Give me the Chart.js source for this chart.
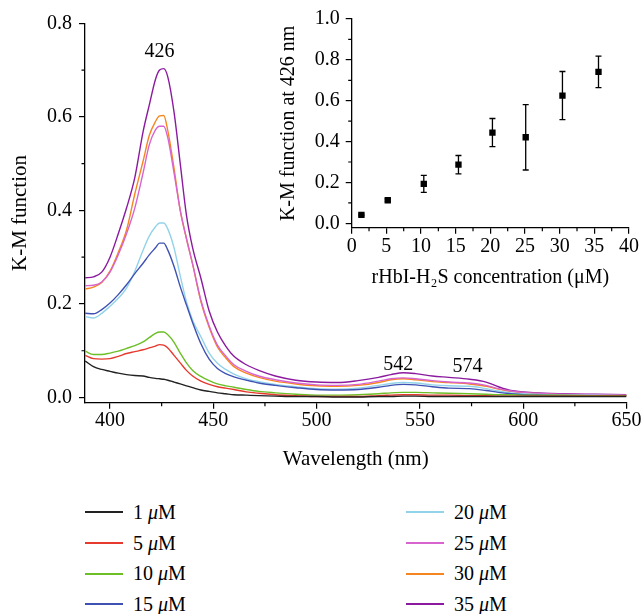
<!DOCTYPE html>
<html>
<head>
<meta charset="utf-8">
<script src="https://cdn.jsdelivr.net/npm/chart.js@4.4.1/dist/chart.umd.min.js"></script>
<style>
  body { margin: 0; background: #fff; }
  #wrap { position: relative; width: 643px; height: 614px; overflow: hidden; }
  #main { position: absolute; left: 0; top: 0; }
  #inset { position: absolute; left: 260px; top: 0; }
  #legend {
    position: absolute; left: 85px; top: 497px;
    display: grid; grid-auto-flow: column;
    grid-template-columns: 321px 200px; grid-template-rows: repeat(4, 30.7px);
    font: 20px 'Liberation Serif', 'Times New Roman', serif; color: #000;
  }
  .item { display: flex; align-items: center; }
  .swatch { display: inline-block; width: 38px; height: 2px; margin-right: 10px; }
</style>
</head>
<body>
<div id="wrap">
  <canvas id="main" width="643" height="480"></canvas>
  <canvas id="inset" width="383" height="295"></canvas>
  <div id="legend"></div>
</div>
<script>
// spectra, K-M function vs wavelength (nm)
const wavelength = [388, 392, 396, 400, 404, 408, 412, 416, 419, 422, 424, 426, 428, 431, 434, 437, 440, 444, 448, 452,
  456, 460, 466, 472, 480, 490, 500, 510, 520, 530, 536, 542, 548, 556, 564, 574, 582, 588, 594, 600, 610, 620, 635, 650]
const conc = ['1', '5', '10', '15', '20', '25', '30', '35']

const km1 = [0.078, 0.066, 0.060, 0.056, 0.052, 0.049, 0.047, 0.046, 0.043, 0.041, 0.040, 0.039, 0.037, 0.033, 0.029, 0.025, 0.021, 0.016, 0.013, 0.010,
  0.008, 0.006, 0.005, 0.004, 0.003, 0.002, 0.002, 0.001, 0.001, 0.002, 0.002, 0.003, 0.003, 0.002, 0.002, 0.002, 0.002, 0.002, 0.002, 0.002, 0.002, 0.002, 0.002, 0.002]
const km5 = [0.090, 0.083, 0.082, 0.083, 0.088, 0.094, 0.098, 0.102, 0.106, 0.110, 0.113, 0.112, 0.106, 0.090, 0.074, 0.058, 0.046, 0.035, 0.028, 0.023,
  0.020, 0.017, 0.012, 0.009, 0.006, 0.004, 0.002, 0.002, 0.002, 0.004, 0.005, 0.006, 0.006, 0.005, 0.005, 0.004, 0.004, 0.003, 0.003, 0.003, 0.003, 0.003, 0.003, 0.003]
const km10 = [0.099, 0.092, 0.092, 0.095, 0.099, 0.105, 0.111, 0.119, 0.128, 0.137, 0.140, 0.140, 0.134, 0.118, 0.095, 0.074, 0.058, 0.045, 0.036, 0.029,
  0.025, 0.022, 0.017, 0.013, 0.010, 0.007, 0.005, 0.005, 0.006, 0.008, 0.010, 0.011, 0.011, 0.010, 0.009, 0.008, 0.007, 0.006, 0.006, 0.005, 0.005, 0.005, 0.004, 0.004]
const km15 = [0.180, 0.179, 0.188, 0.202, 0.220, 0.241, 0.265, 0.287, 0.305, 0.320, 0.330, 0.330, 0.315, 0.280, 0.237, 0.198, 0.160, 0.115, 0.082, 0.062,
  0.051, 0.044, 0.037, 0.031, 0.026, 0.021, 0.017, 0.016, 0.017, 0.022, 0.026, 0.028, 0.027, 0.023, 0.020, 0.019, 0.015, 0.011, 0.008, 0.006, 0.005, 0.004, 0.004, 0.004]
const km20 = [0.173, 0.170, 0.180, 0.195, 0.212, 0.234, 0.270, 0.315, 0.345, 0.365, 0.373, 0.373, 0.360, 0.320, 0.260, 0.205, 0.165, 0.130, 0.095, 0.073,
  0.060, 0.050, 0.040, 0.034, 0.028, 0.023, 0.019, 0.018, 0.020, 0.026, 0.030, 0.032, 0.031, 0.027, 0.025, 0.024, 0.019, 0.014, 0.010, 0.008, 0.006, 0.005, 0.005, 0.004]
const km25 = [0.239, 0.240, 0.247, 0.268, 0.305, 0.350, 0.405, 0.480, 0.540, 0.572, 0.580, 0.580, 0.555, 0.480, 0.400, 0.340, 0.285, 0.208, 0.153, 0.112,
  0.089, 0.070, 0.056, 0.046, 0.038, 0.031, 0.027, 0.026, 0.028, 0.035, 0.040, 0.042, 0.040, 0.036, 0.033, 0.031, 0.026, 0.019, 0.014, 0.011, 0.008, 0.007, 0.006, 0.005]
const km30 = [0.232, 0.236, 0.246, 0.270, 0.310, 0.358, 0.435, 0.505, 0.560, 0.590, 0.602, 0.603, 0.570, 0.490, 0.400, 0.340, 0.285, 0.205, 0.150, 0.108,
  0.085, 0.066, 0.052, 0.043, 0.035, 0.029, 0.025, 0.024, 0.026, 0.032, 0.038, 0.040, 0.038, 0.034, 0.032, 0.029, 0.024, 0.018, 0.013, 0.010, 0.008, 0.006, 0.005, 0.0045]
const km35 = [0.256, 0.258, 0.268, 0.300, 0.350, 0.405, 0.470, 0.568, 0.625, 0.680, 0.700, 0.703, 0.685, 0.610, 0.500, 0.390, 0.320, 0.255, 0.185, 0.140,
  0.110, 0.088, 0.070, 0.058, 0.046, 0.037, 0.033, 0.032, 0.036, 0.043, 0.049, 0.053, 0.051, 0.046, 0.043, 0.039, 0.033, 0.023, 0.015, 0.012, 0.009, 0.008, 0.007, 0.006]

const waveTicks = [400, 450, 500, 550, 600, 650]
const waveMinor = [425, 475, 525, 575, 625]
const kmTicks = [0, 0.2, 0.4, 0.6, 0.8]
const kmMinor = [0.1, 0.3, 0.5, 0.7]
const peaks = ['426', '542', '574']

// inset: K-M at 426 nm vs rHbI-H2S concentration
const insetConc = [1.4, 5.2, 10.4, 15.4, 20.3, 25.1, 30.4, 35.6]
const km426 = [0.041, 0.113, 0.193, 0.287, 0.444, 0.421, 0.625, 0.741]
const km426Err = [0.004, 0.006, 0.042, 0.045, 0.069, 0.160, 0.118, 0.077]
const concTicks = [0, 5, 10, 15, 20, 25, 30, 35, 40]
const concMinor = [2.5, 7.5, 12.5, 17.5, 22.5, 27.5, 32.5, 37.5]
const insetTicks = [0, 0.2, 0.4, 0.6, 0.8, 1.0]
const insetMinor = [0.1, 0.3, 0.5, 0.7, 0.9]

const lineColors = ['#222222', '#e63a2e', '#6cbf26', '#3f52b4', '#92d3ea', '#d864cf', '#f5861f', '#8b1a9f']

Chart.defaults.font.family = "'Liberation Serif', 'Times New Roman', serif"
Chart.defaults.font.size = 20
Chart.defaults.color = '#000'

// outward minor ticks on both axes
const minorTicks = {
  id: 'minorTicks',
  afterDraw (chart, args, opts) {
    const { ctx } = chart
    const sx = chart.scales.x
    const sy = chart.scales.y
    ctx.save()
    ctx.strokeStyle = '#000'
    ctx.lineWidth = 1.2
    ctx.beginPath()
    ;(opts.x || []).forEach(v => {
      const px = sx.getPixelForValue(v)
      ctx.moveTo(px, sx.top)
      ctx.lineTo(px, sx.top + opts.len)
    })
    ;(opts.y || []).forEach(v => {
      const py = sy.getPixelForValue(v)
      ctx.moveTo(sy.right, py)
      ctx.lineTo(sy.right - opts.len, py)
    })
    ctx.stroke()
    ctx.restore()
  }
}

const peakLabels = {
  id: 'peakLabels',
  afterDatasetsDraw (chart, args, opts) {
    if (!opts.at) return
    const { ctx, scales: { x, y } } = chart
    ctx.save()
    ctx.font = "20px 'Liberation Serif', 'Times New Roman', serif"
    ctx.fillStyle = '#000'
    ctx.textAlign = 'center'
    ctx.textBaseline = 'middle'
    peaks.forEach((t, i) => {
      const p = opts.at[i]
      ctx.fillText(t, x.getPixelForValue(p[0]), y.getPixelForValue(p[1]))
    })
    ctx.restore()
  }
}

const errorBars = {
  id: 'errorBars',
  beforeDatasetsDraw (chart, args, opts) {
    if (!opts.errors) return
    const { ctx, scales: { x, y } } = chart
    ctx.save()
    ctx.strokeStyle = '#000'
    ctx.lineWidth = 1.3
    ctx.beginPath()
    chart.data.datasets[0].data.forEach((p, i) => {
      const e = opts.errors[i]
      const px = x.getPixelForValue(p.x)
      const top = y.getPixelForValue(p.y + e)
      const bot = y.getPixelForValue(p.y - e)
      ctx.moveTo(px, top); ctx.lineTo(px, bot)
      ctx.moveTo(px - 3, top); ctx.lineTo(px + 3, top)
      ctx.moveTo(px - 3, bot); ctx.lineTo(px + 3, bot)
    })
    ctx.stroke()
    ctx.restore()
  }
}

const spectra = [km1, km5, km10, km15, km20, km25, km30, km35]

const axisGrid = { display: true, drawOnChartArea: false, drawTicks: true, tickLength: 6, color: '#000', lineWidth: 1.2 }
const axisBorder = { display: true, color: '#000', width: 1.3 }

const mainChart = new Chart(document.getElementById('main'), {
  type: 'line',
  data: {
    datasets: spectra.map((vals, i) => ({
      label: conc[i] + ' μM',
      data: vals.map((v, j) => ({ x: wavelength[j], y: v })),
      borderColor: lineColors[i],
      backgroundColor: lineColors[i],
      borderWidth: 1.4,
      pointRadius: 0,
      cubicInterpolationMode: 'monotone'
    }))
  },
  options: {
    responsive: false,
    animation: false,
    events: [],
    layout: { padding: { top: 23.3, right: 16.5, left: 0, bottom: 0 } },
    plugins: {
      legend: { display: false },
      tooltip: { enabled: false },
      minorTicks: { x: waveMinor, y: kmMinor, len: 3.5 },
      peakLabels: { at: [[424, 0.74], [539.5, 0.0705], [573, 0.066]] }
    },
    scales: {
      x: {
        type: 'linear',
        min: 387.9,
        max: 650,
        afterBuildTicks: s => { s.ticks = waveTicks.map(v => ({ value: v })) },
        afterFit: s => { s.height = 77.3 },
        grid: axisGrid,
        border: axisBorder,
        ticks: { autoSkip: false, maxRotation: 0, padding: 0, callback: v => String(v) },
        title: { display: true, text: 'Wavelength (nm)', font: { size: 21 }, padding: { top: 0, bottom: 8.4 } }
      },
      y: {
        min: -0.0111,
        max: 0.8,
        afterBuildTicks: s => { s.ticks = kmTicks.map(v => ({ value: v })) },
        afterFit: s => { s.width = 85 },
        grid: axisGrid,
        border: axisBorder,
        ticks: { padding: 7, callback: v => v.toFixed(1) },
        title: { display: true, text: 'K-M function', font: { size: 21 }, padding: { top: 7.4, bottom: 0 } }
      }
    }
  },
  plugins: [minorTicks, peakLabels]
})

// eslint-disable-next-line no-unused-vars
const insetChart = new Chart(document.getElementById('inset'), {
  type: 'scatter',
  data: {
    datasets: [{
      data: insetConc.map((c, i) => ({ x: c, y: km426[i] })),
      pointStyle: 'rect',
      pointRadius: 4.5,
      backgroundColor: '#000',
      borderColor: '#000',
      borderWidth: 0
    }]
  },
  options: {
    responsive: false,
    animation: false,
    events: [],
    layout: { padding: { top: 19, right: 14, left: 0, bottom: 0 } },
    plugins: {
      legend: { display: false },
      tooltip: { enabled: false },
      minorTicks: { x: concMinor, y: insetMinor, len: 3.5 },
      errorBars: { errors: km426Err }
    },
    scales: {
      x: {
        type: 'linear',
        min: 0,
        max: 40,
        afterBuildTicks: s => { s.ticks = concTicks.map(v => ({ value: v })) },
        afterFit: s => { s.height = 67.3 },
        grid: axisGrid,
        border: axisBorder,
        ticks: { autoSkip: false, maxRotation: 0, padding: 1, callback: v => String(v) },
        title: { display: true, text: 'rHbI-H₂S concentration (μM)', font: { size: 20 }, padding: { top: 0, bottom: 5.3 } }
      },
      y: {
        min: -0.0215,
        max: 1.0,
        afterBuildTicks: s => { s.ticks = insetTicks.map(v => ({ value: v })) },
        afterFit: s => { s.width = 91.7 },
        grid: axisGrid,
        border: axisBorder,
        ticks: { padding: 6, callback: v => v.toFixed(1) },
        title: { display: true, text: 'K-M function at 426 nm', font: { size: 20 }, padding: { top: 16.3, bottom: 0 } }
      }
    }
  },
  plugins: [minorTicks, errorBars]
})

// two-column legend built from the main chart's datasets
const legendEl = document.getElementById('legend')
mainChart.data.datasets.forEach((ds, i) => {
  const item = document.createElement('div')
  item.className = 'item'
  item.innerHTML = '<span class="swatch" style="background:' + ds.borderColor + '"></span><span>' + conc[i] + ' <i>μ</i>M</span>'
  legendEl.appendChild(item)
})
</script>
</body>
</html>
